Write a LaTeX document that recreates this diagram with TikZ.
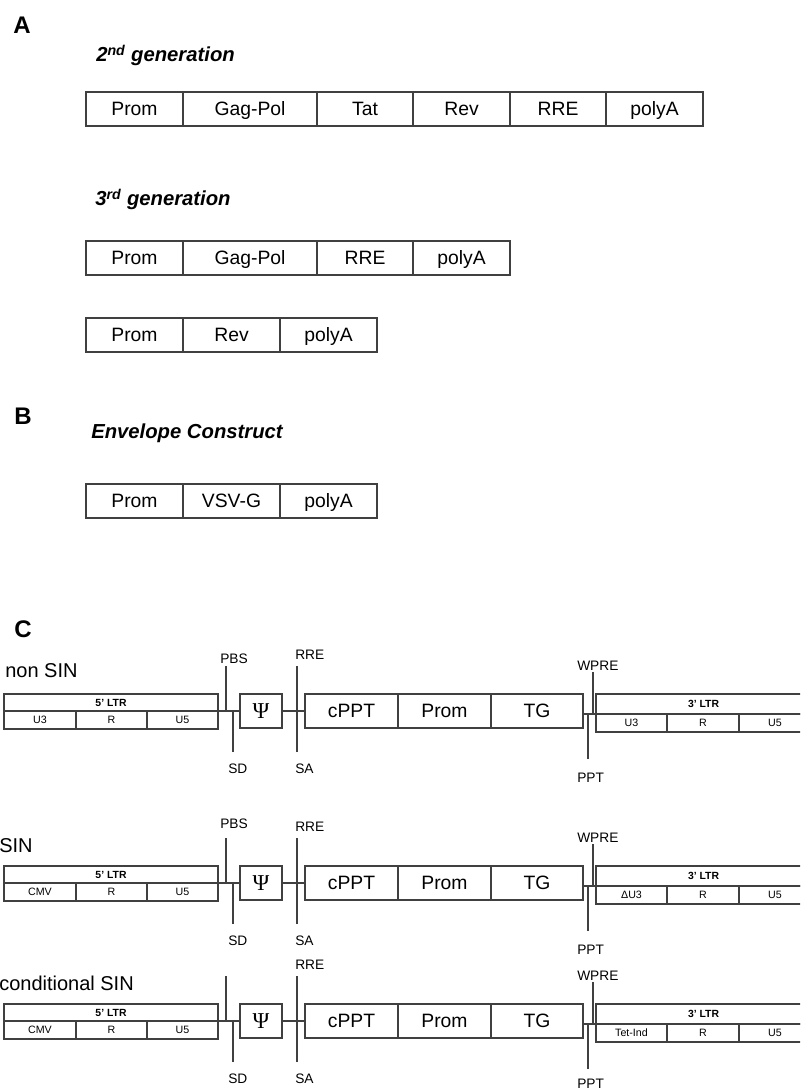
\documentclass[tikz,border=0pt]{standalone}
\usepackage{fontspec}
\setmainfont{Liberation Sans}
\newfontfamily\psifont{Liberation Serif}
\definecolor{boxgray}{HTML}{404040}
\newcommand{\gcell}[7][]{%
  \node[cell,#1,minimum width={(#5-#3)*0.75pt},minimum height={(#6-#4)*0.75pt}] (#2) at ({(#3+#5)/2},{(#4+#6)/2}) {#7};}
\newcommand{\crow}[4]{%
\begin{scope}[shift={(0,#2)}]
  \gcell[ltrhead]{#1a}{4}{694}{218}{711}{5’ LTR}
  \gcell[ltrcell]{#1b}{4}{711}{76}{729}{#3}
  \gcell[ltrcell]{#1c}{76}{711}{147}{729}{R}
  \gcell[ltrcell]{#1d}{147}{711}{218}{729}{U5}
  \gcell[psicell]{#1psi}{240}{694}{282}{728}{Ψ}
  \gcell{#1cppt}{305}{694}{398}{728}{cPPT}
  \gcell{#1prom}{398}{694}{491}{728}{Prom}
  \gcell{#1tg}{491}{694}{583}{728}{TG}
  \gcell[ltrhead]{#1e}{596}{694}{811}{714}{3’ LTR}
  \gcell[ltrcell]{#1f}{596}{714}{667}{732}{#4}
  \gcell[ltrcell]{#1g}{667}{714}{739}{732}{R}
  \gcell[ltrcell]{#1h}{739}{714}{811}{732}{U5}
  \draw[conn] (#1a.south east) -- (#1psi.west);
  \draw[conn] (#1psi.east) -- (#1cppt.west);
  \draw[conn] (#1tg.east |- #1e.south west) -- (#1e.south west);
  \coordinate (#1pbs) at (226,666);
  \coordinate (#1sd) at (233,752);
  \coordinate (#1rre) at (297,666);
  \coordinate (#1sa) at (297,752);
  \coordinate (#1wpre) at (593,672);
  \coordinate (#1ppt) at (588,759);
  \draw[conn] (#1pbs) -- (#1pbs |- #1a.south east);
  \draw[conn] (#1sd) -- (#1sd |- #1a.south east);
  \draw[conn] (#1rre) -- (#1rre |- #1psi.east);
  \draw[conn] (#1sa) -- (#1sa |- #1psi.east);
  \draw[conn] (#1wpre) -- (#1wpre |- #1e.south west);
  \draw[conn] (#1ppt) -- (#1ppt |- #1e.south west);
  \node[mlabel] (#1sdl) at (228,769) {SD};
  \node[mlabel] (#1rrel) at (295,655) {RRE};
  \node[mlabel] (#1sal) at (295,769) {SA};
  \node[mlabel] (#1wprel) at (577,666) {WPRE};
\end{scope}}
\begin{document}
\begin{tikzpicture}[x=0.75pt,y=-0.75pt,
  cell/.style={draw=boxgray,line width=0.8pt,rectangle,inner sep=0pt,outer sep=0pt,
    font=\fontsize{14.5}{17}\selectfont,text height=10.4pt,text depth=0pt},
  ltrhead/.style={font=\bfseries\fontsize{7.8}{9}\selectfont,text height=5.6pt},
  ltrcell/.style={font=\fontsize{8}{9}\selectfont,text height=5.7pt},
  psicell/.style={font=\psifont\fontsize{17}{19}\selectfont,text height=11.3pt},
  conn/.style={draw=boxgray,line width=0.8pt},
  mlabel/.style={anchor=west,inner sep=0pt,font=\fontsize{10.3}{12}\selectfont},
  panel/.style={anchor=base west,inner sep=0pt,font=\bfseries\fontsize{18}{20}\selectfont},
  heading/.style={anchor=base west,inner sep=0pt,font=\bfseries\itshape\fontsize{15.2}{17}\selectfont},
  rowname/.style={anchor=base west,inner sep=0pt,font=\fontsize{15}{17}\selectfont}]
\useasboundingbox (0,0) rectangle (800,1091);
\clip (0,0) rectangle (800,1091);
% Panel A
\node[panel] (A) at (13,34) {A};
\node[heading] (h2) at (96,62) {2\textsuperscript{nd} generation};
\gcell{a1}{86}{92}{183}{126}{Prom}
\gcell{a2}{183}{92}{317}{126}{Gag-Pol}
\gcell{a3}{317}{92}{413}{126}{Tat}
\gcell{a4}{413}{92}{510}{126}{Rev}
\gcell{a5}{510}{92}{606}{126}{RRE}
\gcell{a6}{606}{92}{703}{126}{polyA}
\node[heading] (h3) at (95,206) {3\textsuperscript{rd} generation};
\gcell{b1}{86}{241}{183}{275}{Prom}
\gcell{b2}{183}{241}{317}{275}{Gag-Pol}
\gcell{b3}{317}{241}{413}{275}{RRE}
\gcell{b4}{413}{241}{510}{275}{polyA}
\gcell{c1}{86}{318}{183}{352}{Prom}
\gcell{c2}{183}{318}{280}{352}{Rev}
\gcell{c3}{280}{318}{377}{352}{polyA}
% Panel B
\node[panel] (B) at (14,424) {B};
\node[heading] (hb) at (91,438) {Envelope Construct};
\gcell{d1}{86}{484}{183}{518}{Prom}
\gcell{d2}{183}{484}{280}{518}{VSV-G}
\gcell{d3}{280}{484}{377}{518}{polyA}
% Panel C
\node[panel] (C) at (14,637) {C};
\node[rowname] (n1) at (5,677) {non SIN};
\crow{r}{0}{U3}{U3}
\node[mlabel] (rpbsl) at (220,659) {PBS};
\node[mlabel] (rpptl) at (577,778) {PPT};
\node[rowname] (n2) at (-1,852) {SIN};
\crow{s}{172}{CMV}{ΔU3}
\node[mlabel] (spbsl) at (220,824) {PBS};
\node[mlabel] (spptl) at (577,950) {PPT};
\node[rowname] (n3) at (-1,990) {conditional SIN};
\crow{t}{310}{CMV}{Tet-Ind}
\node[mlabel] (tpptl) at (577,1084) {PPT};
\end{tikzpicture}
\end{document}
